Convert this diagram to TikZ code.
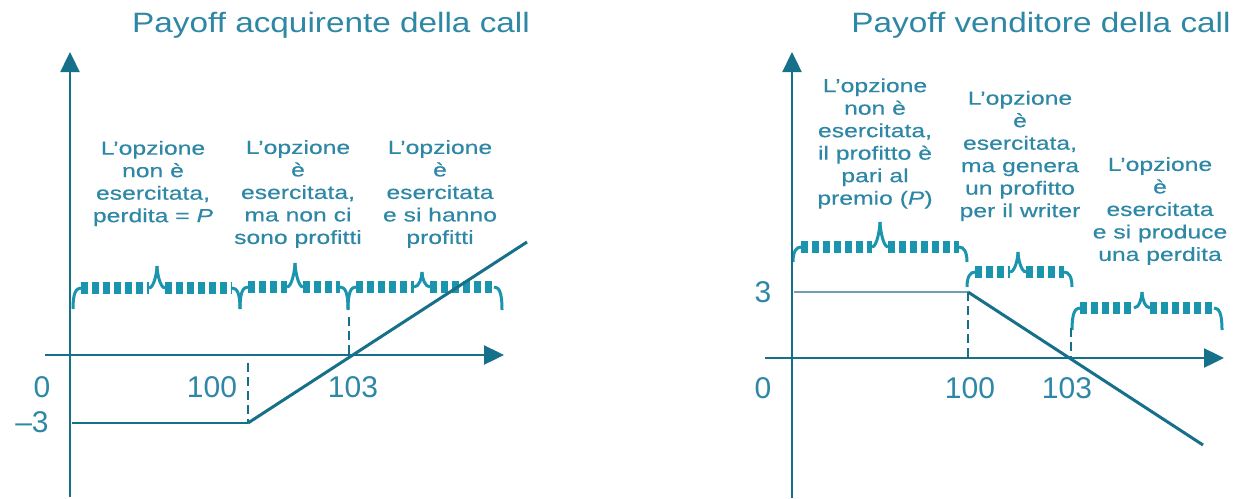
\documentclass[tikz,border=0pt]{standalone}
\usepackage{fontspec}
\setmainfont{Liberation Sans}
\newfontfamily\bodyfont[FakeStretch=1.3,FakeBold=0.4]{Liberation Sans}
\newfontfamily\titlefont[FakeStretch=1.19]{Liberation Sans}
\usetikzlibrary{arrows.meta}
\definecolor{axiscol}{RGB}{22,112,138}
\definecolor{bracecol}{RGB}{27,148,174}
\definecolor{txtcol}{RGB}{45,135,165}
\definecolor{lightcol}{RGB}{110,160,175}
\tikzset{
  curl/.style={draw=bracecol, line width=3pt},
  dbar/.style={draw=bracecol, line width=11.5pt, dash pattern=on 7pt off 4pt},
  axisline/.style={draw=axiscol, line width=2.4pt, -{Triangle[length=20pt,width=19pt]}},
  payoff/.style={draw=axiscol, line width=3pt},
  levelline/.style={draw=axiscol, line width=2.2pt},
  lightline/.style={draw=lightcol, line width=1.6pt},
  guideline/.style={draw=axiscol, line width=2pt, dash pattern=on 9pt off 5pt},
  lbl/.style={text=txtcol, font=\bodyfont\fontsize{19}{22.5}\selectfont, align=center, inner sep=0pt},
  num/.style={text=txtcol, font=\fontsize{30}{30}\selectfont, inner sep=0pt},
  ttl/.style={text=txtcol, font=\titlefont\fontsize{28}{28}\selectfont, inner sep=0pt, anchor=base}
}
\newcommand\cbrace[6]{% x1,x2,xm,yb,ybar,ytip
  \draw[curl] (#1,#4) .. controls (#1,{#5+5}) and ({#1+3},#5) .. ({#1+8},#5);
  \draw[dbar] ({#1+8},#5) -- ({#3-8},#5);
  \draw[curl] ({#3-8},#5) .. controls ({#3-3},#5) and (#3,{#6+6}) .. (#3,#6);
  \draw[curl] (#3,#6) .. controls (#3,{#6+6}) and ({#3+3},#5) .. ({#3+8},#5);
  \draw[dbar] ({#3+8},#5) -- ({#2-8},#5);
  \draw[curl] ({#2-8},#5) .. controls ({#2-3},#5) and (#2,{#5+5}) .. (#2,#4);
}
\begin{document}
\begin{tikzpicture}[x=1pt,y=-1pt]
\useasboundingbox (0,0) rectangle (1238,498);
% titles
\node[ttl] (t1) at (331,32) {Payoff acquirente della call};
\node[ttl] (t2) at (1041,32) {Payoff venditore della call};
% braces
\cbrace{73}{240}{157}{309}{288}{266}
\cbrace{240}{348}{295}{309}{287}{263}
\cbrace{348}{502}{422}{310}{287}{272}
\cbrace{793}{967}{880}{262}{247}{222}
\cbrace{967}{1072}{1018}{287}{272}{252}
\cbrace{1072}{1222}{1142}{330}{308}{292}
% left chart
\coordinate (LYb) at (70,497); \coordinate (LYt) at (70,52);
\coordinate (LXa) at (45,355); \coordinate (LXb) at (504,355);
\coordinate (LA) at (72,423); \coordinate (LK) at (248,423);
\coordinate (LE) at (527,242);
\coordinate (LD1) at (248,363); \coordinate (LD2a) at (349,317); \coordinate (LD2b) at (349,355);
\draw[axisline] (LYb) -- (LYt);
\draw[axisline] (LXa) -- (LXb);
\draw[levelline] (LA) -- (LK);
\draw[payoff] (LK) -- (LE);
\draw[guideline] (LD1) -- (LK);
\draw[guideline] (LD2a) -- (LD2b);
% right chart
\coordinate (RYb) at (792,498); \coordinate (RYt) at (792,52);
\coordinate (RXa) at (765,358); \coordinate (RXb) at (1224,358);
\coordinate (RA) at (794,292); \coordinate (RK) at (968,292);
\coordinate (RE) at (1203,445);
\coordinate (RD1) at (968,358); \coordinate (RD2a) at (1071,328); \coordinate (RD2b) at (1071,358);
\draw[axisline] (RYb) -- (RYt);
\draw[axisline] (RXa) -- (RXb);
\draw[lightline] (RA) -- (RK);
\draw[payoff] (RK) -- (RE);
\draw[guideline] (RK) -- (RD1);
\draw[guideline] (RD2a) -- (RD2b);
% numbers
\node[num] (n0l) at (42,387) {0};
\node[num] (n100l) at (212,387) {100};
\node[num] (n103l) at (353,387) {103};
\node[num] (nm3) at (32,422) {–3};
\node[num] (n3r) at (763,292) {3};
\node[num] (n0r) at (763,388) {0};
\node[num] (n100r) at (970,388) {100};
\node[num] (n103r) at (1067,388) {103};
% labels
\node[lbl] (a1) at (153,183.5) {L’opzione\\non è\\esercitata,\\perdita = \textit{P}};
\node[lbl] (a2) at (298,194) {L’opzione\\è\\esercitata,\\ma non ci\\sono profitti};
\node[lbl] (a3) at (440,194) {L’opzione\\è\\esercitata\\e si hanno\\profitti};
\node[lbl] (b1) at (875,143.5) {L’opzione\\non è\\esercitata,\\il profitto è\\pari al\\premio (\textit{P})};
\node[lbl] (b2) at (1020,156) {L’opzione\\è\\esercitata,\\ma genera\\un profitto\\per il writer};
\node[lbl] (b3) at (1160,211) {L’opzione\\è\\esercitata\\e si produce\\una perdita};
\end{tikzpicture}
\end{document}
